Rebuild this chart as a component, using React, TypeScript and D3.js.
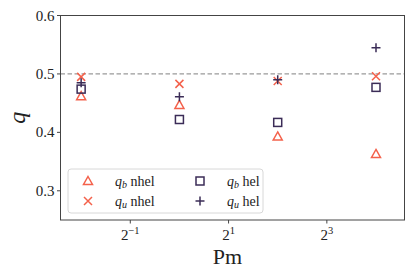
import { useEffect, useRef } from 'react';
import * as d3 from 'd3';

const margin = { top: 15.5, right: 10.5, bottom: 57, left: 60.5 }
const width = 415 - margin.left - margin.right
const height = 277 - margin.top - margin.bottom

const pm = [0.25, 1, 4, 16]
const qbNhel = [0.462, 0.447, 0.393, 0.363]
const quNhel = [0.495, 0.483, 0.488, 0.496]
const qbHel = [0.474, 0.422, 0.417, 0.477]
const quHel = [0.485, 0.461, 0.49, 0.545]

const yTicks = [0.3, 0.4, 0.5, 0.6]
const xTickExps = [-1, 1, 3]

const orange = '#f4614b'
const purple = '#3b2c57'
const font = "'Liberation Serif', 'DejaVu Serif', serif"

type Marker = 'tri' | 'x' | 'sq' | 'plus'

const drawMarker = (g: any, kind: Marker, color: string) => {
  const s = 4
  if (kind === 'tri') {
    g.append('path').attr('d', `M0,${-s - 0.5}L${s + 0.5},${s - 0.5}L${-s - 0.5},${s - 0.5}Z`)
      .attr('fill', 'none').attr('stroke', color).attr('stroke-width', 1.5)
  } else if (kind === 'sq') {
    g.append('rect').attr('x', -s).attr('y', -s).attr('width', 2 * s).attr('height', 2 * s)
      .attr('fill', 'none').attr('stroke', color).attr('stroke-width', 1.5)
  } else if (kind === 'x') {
    g.append('path').attr('d', `M${-s},${-s}L${s},${s}M${-s},${s}L${s},${-s}`)
      .attr('stroke', color).attr('stroke-width', 1.5)
  } else {
    g.append('path').attr('d', `M${-s - 0.5},0L${s + 0.5},0M0,${-s - 0.5}L0,${s + 0.5}`)
      .attr('stroke', color).attr('stroke-width', 1.5)
  }
}

const series: { vals: number[], kind: Marker, color: string, label: string }[] = [
  { vals: qbNhel, kind: 'tri', color: orange, label: 'b|nhel' },
  { vals: quNhel, kind: 'x', color: orange, label: 'u|nhel' },
  { vals: qbHel, kind: 'sq', color: purple, label: 'b|hel' },
  { vals: quHel, kind: 'plus', color: purple, label: 'u|hel' },
]

const App = () => {
  const d3svg = useRef(null)

  useEffect(() => {
    if (!d3svg.current) return
    const root = d3.select(d3svg.current)
    root.selectAll('*').remove()
    root.style('font-family', font)

    const xScale = d3.scaleLog().base(2).domain([Math.pow(2, -2.42), Math.pow(2, 4.58)]).range([0, width])
    const yScale = d3.scaleLinear().domain([0.25, 0.6]).range([height, 0])

    const svg = root.append('g').attr('transform', `translate(${margin.left}, ${margin.top})`)

    // reference line
    svg.append('line')
      .attr('x1', 0).attr('x2', width)
      .attr('y1', yScale(0.5)).attr('y2', yScale(0.5))
      .attr('stroke', '#9a9a9a').attr('stroke-width', 1.3).attr('stroke-dasharray', '4.5,2.5')

    // points
    series.forEach(s => {
      s.vals.forEach((v, i) => {
        const g = svg.append('g').attr('transform', `translate(${xScale(pm[i])},${yScale(v)})`)
        drawMarker(g, s.kind, s.color)
      })
    })

    // frame
    svg.append('rect').attr('width', width).attr('height', height)
      .attr('fill', 'none').attr('stroke', '#444').attr('stroke-width', 1)

    // y ticks
    yTicks.forEach(t => {
      svg.append('line').attr('x1', -3.5).attr('x2', 0).attr('y1', yScale(t)).attr('y2', yScale(t))
        .attr('stroke', '#444')
      svg.append('text').attr('x', -6).attr('y', yScale(t) + 5)
        .attr('text-anchor', 'end').style('font-size', '15px')
        .attr('fill', '#222').text(t.toFixed(1))
    })

    // x ticks
    xTickExps.forEach(e => {
      const x = xScale(Math.pow(2, e))
      svg.append('line').attr('x1', x).attr('x2', x).attr('y1', height).attr('y2', height + 3.5)
        .attr('stroke', '#444')
      const t = svg.append('text').attr('x', x).attr('y', height + 20)
        .attr('text-anchor', 'middle').style('font-size', '15px').attr('fill', '#222')
      t.append('tspan').text('2')
      t.append('tspan').style('font-size', '10.5px').attr('dy', -6).text(e < 0 ? `\u2212${-e}` : `${e}`)
    })

    // axis labels
    svg.append('text').attr('x', width / 2 - 5).attr('y', height + 44)
      .attr('text-anchor', 'middle').style('font-size', '22px').attr('fill', '#222')
      .text('Pm')
    svg.append('text').attr('transform', `translate(${-36},${height / 2}) rotate(-90)`)
      .attr('text-anchor', 'middle').style('font-size', '24px')
      .style('font-style', 'italic').attr('fill', '#222').text('q')

    // legend
    const leg = root.append('g').attr('transform', 'translate(68,169)')
    leg.append('rect').attr('width', 195).attr('height', 44).attr('rx', 3)
      .attr('fill', 'white').attr('fill-opacity', 0.85).attr('stroke', '#d8d8d8')
    series.forEach((s, i) => {
      const col = i < 2 ? 0 : 1
      const row = i % 2
      const mx = 20 + col * 112
      const my = 12 + row * 20
      drawMarker(leg.append('g').attr('transform', `translate(${mx},${my})`), s.kind, s.color)
      const [sub, word] = s.label.split('|')
      const t = leg.append('text').attr('x', mx + 27).attr('y', my + 4.5)
        .style('font-size', '14px').attr('fill', '#222')
      t.append('tspan').style('font-style', 'italic').text('q')
      t.append('tspan').style('font-style', 'italic').style('font-size', '10px').attr('dy', 2.5).text(sub)
      t.append('tspan').attr('dy', -2.5).text(` ${word}`)
    })
  }, [])

  return (
    <svg width={415} height={277} ref={d3svg} style={{ position: 'absolute', left: 0, top: 0 }}></svg>
  )
}

export default App;
